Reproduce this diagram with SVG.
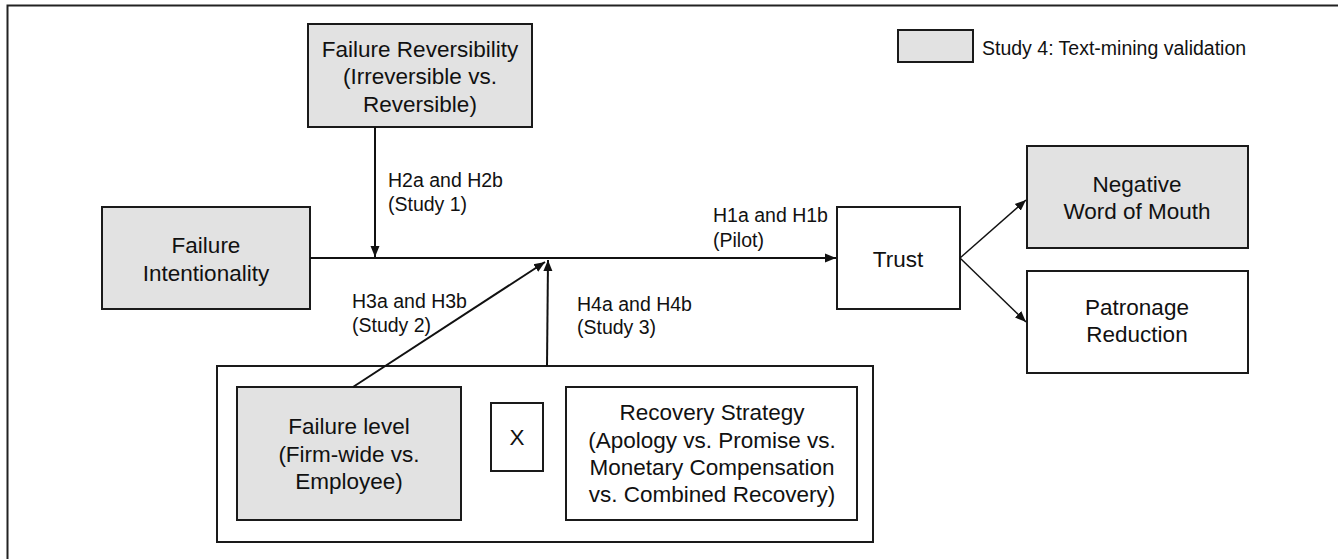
<svg xmlns="http://www.w3.org/2000/svg" width="1338" height="559" viewBox="0 0 1338 559">
<defs>
<marker id="ah" markerUnits="userSpaceOnUse" markerWidth="12" markerHeight="10" refX="11" refY="5" orient="auto">
<path d="M0,0.5 L11,5 L0,9.5 z" fill="#111"/>
</marker>
<style>
.box{stroke:#1a1a1a;stroke-width:2;fill:#fff}
.gray{fill:#e2e2e2}
.t{font-family:"Liberation Sans",Arial,sans-serif;font-size:22.5px;fill:#111;text-anchor:middle}
.lb{font-family:"Liberation Sans",Arial,sans-serif;font-size:19.5px;fill:#111}
.c{stroke:#111;stroke-width:2;fill:none}
.cs{stroke:#111;stroke-width:1.4;fill:none}
</style>
</defs>
<rect width="1338" height="559" fill="#fff"/>
<g id="frame">
<path d="M7.5,559 V5.5 H1338" stroke="#222" stroke-width="2" fill="none"/>
</g>
<g id="legend">
<rect class="box gray" x="898" y="30" width="75" height="32"/>
<text class="lb" x="982" y="55">Study 4: Text-mining validation</text>
</g>
<g id="reversibility">
<rect class="box gray" x="308" y="24" width="224" height="103"/>
<text class="t" x="420" y="57">Failure Reversibility</text>
<text class="t" x="420" y="84">(Irreversible vs.</text>
<text class="t" x="420" y="112">Reversible)</text>
</g>
<g id="intentionality">
<rect class="box gray" x="102" y="207" width="208" height="102"/>
<text class="t" x="206" y="253">Failure</text>
<text class="t" x="206" y="281">Intentionality</text>
</g>
<g id="trust">
<rect class="box" x="837" y="207" width="123" height="102"/>
<text class="t" x="898" y="267">Trust</text>
</g>
<g id="nwom">
<rect class="box gray" x="1027" y="146" width="221" height="102"/>
<text class="t" x="1137" y="192">Negative</text>
<text class="t" x="1137" y="219">Word of Mouth</text>
</g>
<g id="patronage">
<rect class="box" x="1027" y="271" width="221" height="102"/>
<text class="t" x="1137" y="315">Patronage</text>
<text class="t" x="1137" y="342">Reduction</text>
</g>
<g id="moderator-group">
<rect class="box" x="217" y="366" width="656" height="176" fill="none"/>
</g>
<g id="failure-level">
<rect class="box gray" x="237" y="387" width="224" height="133"/>
<text class="t" x="349" y="434">Failure level</text>
<text class="t" x="349" y="462">(Firm-wide vs.</text>
<text class="t" x="349" y="489">Employee)</text>
</g>
<g id="times">
<rect class="box" x="491" y="403" width="52" height="68"/>
<text class="t" x="517" y="445">X</text>
</g>
<g id="recovery">
<rect class="box" x="566" y="387" width="291" height="133"/>
<text class="t" x="712" y="420">Recovery Strategy</text>
<text class="t" x="712" y="448">(Apology vs. Promise vs.</text>
<text class="t" x="712" y="475">Monetary Compensation</text>
<text class="t" x="712" y="502">vs. Combined Recovery)</text>
</g>
<g id="connectors">
<line class="c" x1="310" y1="258" x2="836" y2="258" marker-end="url(#ah)"/>
<line class="c" x1="375" y1="127" x2="375" y2="257" marker-end="url(#ah)"/>
<line class="c" x1="353" y1="387" x2="545" y2="262" marker-end="url(#ah)"/>
<line class="c" x1="547" y1="366" x2="548" y2="260" marker-end="url(#ah)"/>
<line class="cs" x1="960" y1="258" x2="1026" y2="200" marker-end="url(#ah)"/>
<line class="cs" x1="960" y1="258" x2="1026" y2="322" marker-end="url(#ah)"/>
<text class="lb" x="388" y="187">H2a and H2b</text>
<text class="lb" x="388" y="211">(Study 1)</text>
<text class="lb" x="713" y="222">H1a and H1b</text>
<text class="lb" x="713" y="247">(Pilot)</text>
<text class="lb" x="352" y="308">H3a and H3b</text>
<text class="lb" x="352" y="332">(Study 2)</text>
<text class="lb" x="577" y="311">H4a and H4b</text>
<text class="lb" x="577" y="334">(Study 3)</text>
</g>
</svg>
